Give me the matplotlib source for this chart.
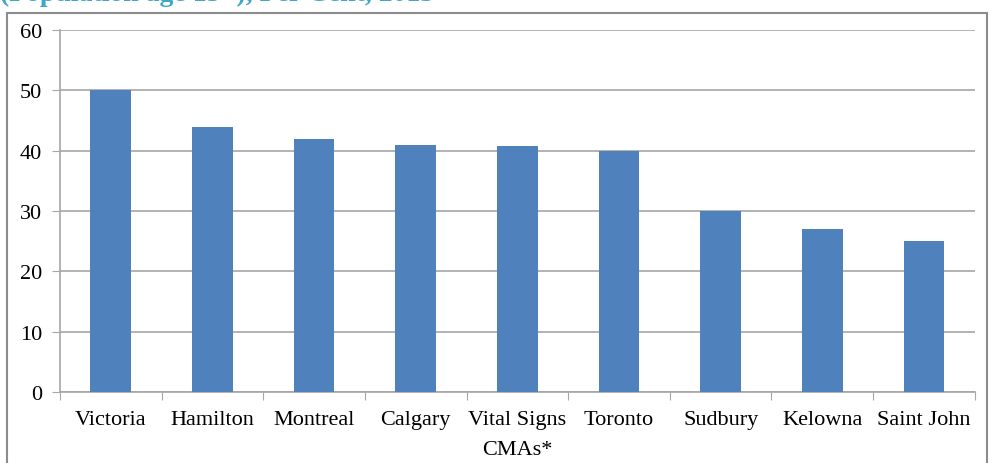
import matplotlib
matplotlib.use("Agg")
import numpy as np
import matplotlib.pyplot as plt
from matplotlib.patches import Rectangle

cities = ["Victoria", "Hamilton", "Montreal", "Calgary", "Vital Signs\nCMAs*",
          "Toronto", "Sudbury", "Kelowna", "Saint John"]
percent = [50, 44, 42, 41, 40.8, 40, 30, 27, 25]
yticks = [0, 10, 20, 30, 40, 50, 60]
title = "(Population age 15+), Per Cent, 2013"

plt.rcParams["font.family"] = ["Liberation Serif", "DejaVu Serif"]

fig = plt.figure(figsize=(9.9, 4.64), dpi=100)
ax = fig.add_axes([0.0606, 0.153, 0.924, 0.78])

x = np.arange(len(cities))
ax.bar(x, percent, 0.4, color="#4F81BD", zorder=3)

ax.set_ylim(0, 60)
ax.set_xlim(-0.5, len(cities) - 0.5)
ax.set_yticks(yticks)
ax.yaxis.grid(True, color="#A6A6A6", linewidth=1.2, zorder=0)
# excel style: tick marks between categories, labels centred under bars
ax.set_xticks(np.arange(-0.5, len(cities), 1))
ax.set_xticklabels([])
ax.set_xticks(x, minor=True)
ax.set_xticklabels(cities, minor=True, fontsize=16, linespacing=1.75)
ax.tick_params(axis="x", which="minor", length=0, pad=13)
ax.tick_params(axis="x", which="major", length=6, color="#A6A6A6", direction="out")
ax.tick_params(axis="y", length=6, color="#A6A6A6", direction="out", labelsize=16, pad=7)

for s in ["top", "right"]:
    ax.spines[s].set_visible(False)
for s in ["left", "bottom"]:
    ax.spines[s].set_color("#A6A6A6")
    ax.spines[s].set_linewidth(1.2)

# outer chart frame
fig.patches.append(Rectangle((7 / 990, -0.01), 980 / 990, 1 - 14 / 464 + 0.01,
                             transform=fig.transFigure, fill=False,
                             edgecolor="#8C8C8C", linewidth=1.5, clip_on=False))

fig.text(0.0, 1 - 1 / 464, title, color="#3FA6C9", fontsize=20, fontweight="bold",
         va="baseline", ha="left")

fig.savefig("out.png", dpi=100)
